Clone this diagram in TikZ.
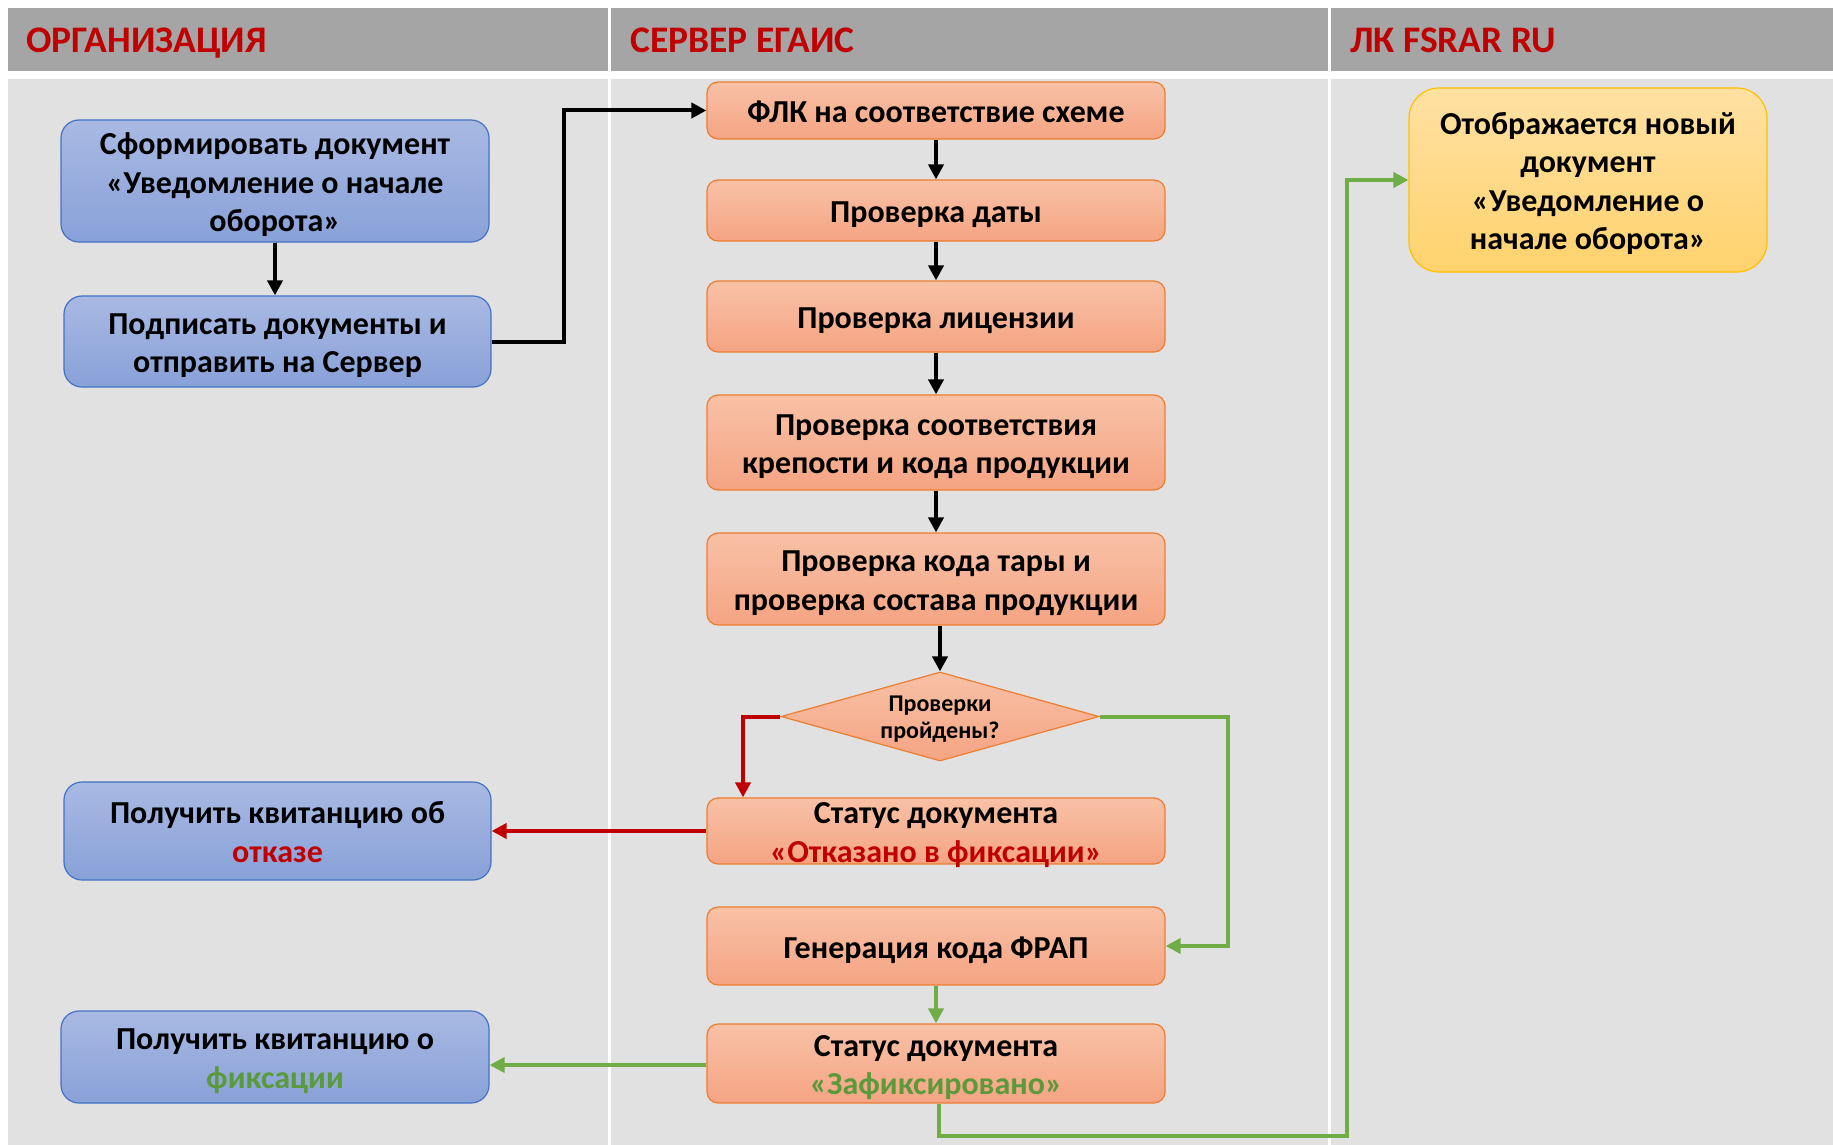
\documentclass[tikz,border=0pt]{standalone}
\usepackage{fontspec}
\setmainfont{Carlito}
\usetikzlibrary{shapes.geometric,arrows.meta}
\definecolor{hdr}{HTML}{A5A5A5}
\definecolor{bodyg}{HTML}{E1E1E1}
\definecolor{hred}{HTML}{C00000}
\definecolor{lgreen}{HTML}{70AD47}
\definecolor{tgreen}{HTML}{5B9A3A}
\definecolor{bluetop}{HTML}{A9B9E3}
\definecolor{bluebot}{HTML}{88A1D8}
\definecolor{blueedge}{HTML}{4472C4}
\definecolor{ortop}{HTML}{F8C1A6}
\definecolor{orbot}{HTML}{F5A483}
\definecolor{oredge}{HTML}{ED7D31}
\definecolor{yetop}{HTML}{FFE1A3}
\definecolor{yebot}{HTML}{FFD26D}
\definecolor{yeedge}{HTML}{FFC000}
% centred block of lines, pushed slightly below the node centre
\newcommand\bt[2][8.6pt]{\raisebox{0pt}[\dimexpr\height+#1-12pt\relax][\dimexpr\depth-12pt\relax]{\begin{tabular}{@{}c@{}}#2\end{tabular}}}
\tikzset{
  hdrtext/.style={anchor=base west,text=hred,font=\fontsize{37.5}{40}\selectfont\bfseries,inner sep=0pt},
  boxtxt/.style={inner sep=0pt,font=\fontsize{32}{38.5}\selectfont\bfseries,text=black},
  orgbox/.style={boxtxt,rounded corners=18pt,draw=blueedge,line width=1.2pt,top color=bluetop,bottom color=bluebot},
  srvbox/.style={boxtxt,rounded corners=11pt,draw=oredge,line width=1.2pt,top color=ortop,bottom color=orbot,minimum width=458pt},
  lkbox/.style={boxtxt,rounded corners=30pt,draw=yeedge,line width=1.2pt,top color=yetop,bottom color=yebot},
  tip/.style={-{Triangle[length=15pt,width=15pt]}},
  blk/.style={line width=4pt,draw=black,tip},
  redl/.style={line width=4pt,draw=hred,tip},
  grnl/.style={line width=4pt,draw=lgreen,tip},
}
\begin{document}
\begin{tikzpicture}[x=1pt,y=-1pt]
\useasboundingbox (0,0) rectangle (1833,1145);
\fill[white] (0,0) rectangle (1833,1145);
% headers
\fill[hdr] (8,8) rectangle (608,71);
\fill[hdr] (611,8) rectangle (1328,71);
\fill[hdr] (1331,8) rectangle (1833,71);
\fill[bodyg] (8,79) rectangle (608,1145);
\fill[bodyg] (611,79) rectangle (1328,1145);
\fill[bodyg] (1331,79) rectangle (1833,1145);
\node[hdrtext] (h1) at (26,53) {ОРГАНИЗАЦИЯ};
\node[hdrtext] (h2) at (630,53) {СЕРВЕР ЕГАИС};
\node[hdrtext] (h3) at (1350,53) {ЛК FSRAR RU};
% organisation column
\node[orgbox,minimum width=428pt,minimum height=122pt] (A) at (275,181) {\bt{Сформировать документ\\«Уведомление о начале\\оборота»}};
\node[orgbox,minimum width=427pt,minimum height=91pt] (B) at (277.5,341.5) {\bt{Подписать документы и\\отправить на Сервер}};
\node[orgbox,minimum width=427pt,minimum height=98pt] (C) at (277.5,831) {\bt{Получить квитанцию об\\\textcolor{hred}{отказе}}};
\node[orgbox,minimum width=428pt,minimum height=92pt] (D) at (275,1057) {\bt{Получить квитанцию о\\\textcolor{tgreen}{фиксации}}};
% server column
\node[srvbox,minimum height=57pt] (flk) at (936,110.5) {\bt{ФЛК на соответствие схеме}};
\node[srvbox,minimum height=61pt] (date) at (936,210.5) {\bt{Проверка даты}};
\node[srvbox,minimum height=71pt] (lic) at (936,316.5) {\bt{Проверка лицензии}};
\node[srvbox,minimum height=95pt] (kr) at (936,442.5) {\bt{Проверка соответствия\\крепости и кода продукции}};
\node[srvbox,minimum height=92pt] (tara) at (936,579) {\bt{Проверка кода тары и\\проверка состава продукции}};
\node[diamond,draw=oredge,line width=1.2pt,top color=ortop,bottom color=orbot,minimum width=318pt,minimum height=89pt,inner sep=0pt] (dia) at (940,716.5) {};
\node[inner sep=0pt,font=\fontsize{24}{27.5}\selectfont\bfseries] (diat) at (940,716.5) {\bt[5.6pt]{Проверки\\пройдены?}};
\node[srvbox,minimum height=66pt] (rej) at (936,831) {\bt{Статус документа\\\textcolor{hred}{«Отказано в фиксации»}}};
\node[srvbox,minimum height=78pt] (gen) at (936,946) {\bt{Генерация кода ФРАП}};
\node[srvbox,minimum height=79pt] (fix) at (936,1063.5) {\bt{Статус документа\\\textcolor{tgreen}{«Зафиксировано»}}};
% LK column
\node[lkbox,minimum width=358pt,minimum height=184pt] (lk) at (1588,180) {\bt{Отображается новый\\документ\\«Уведомление о\\начале оборота»}};
% connectors
\draw[blk] (A.south) -- (A.south |- B.north);
\draw[blk] (B.east) -- ++(72,0) |- (flk.west);
\draw[blk] (flk.south) -- (date.north);
\draw[blk] (date.south) -- (lic.north);
\draw[blk] (lic.south) -- (kr.north);
\draw[blk] (kr.south) -- (tara.north);
\draw[blk] (tara.south -| dia.north) -- (dia.north);
\coordinate (redc) at (743,716.5);
\draw[redl] (dia.west) -- (redc) -- (redc |- rej.north);
\draw[redl] (rej.west) -- (C.east);
\draw[grnl] (dia.east) -- ++(128,0) |- (gen.east);
\draw[grnl] (gen.south) -- (fix.north);
\draw[grnl] ([yshift=-1.5pt]fix.west) -- ([yshift=-1.5pt]fix.west -| D.east);
\draw[grnl] ([xshift=3pt]fix.south) -- ++(0,32) -- ++(408,0) |- (lk.west);
\end{tikzpicture}
\end{document}
